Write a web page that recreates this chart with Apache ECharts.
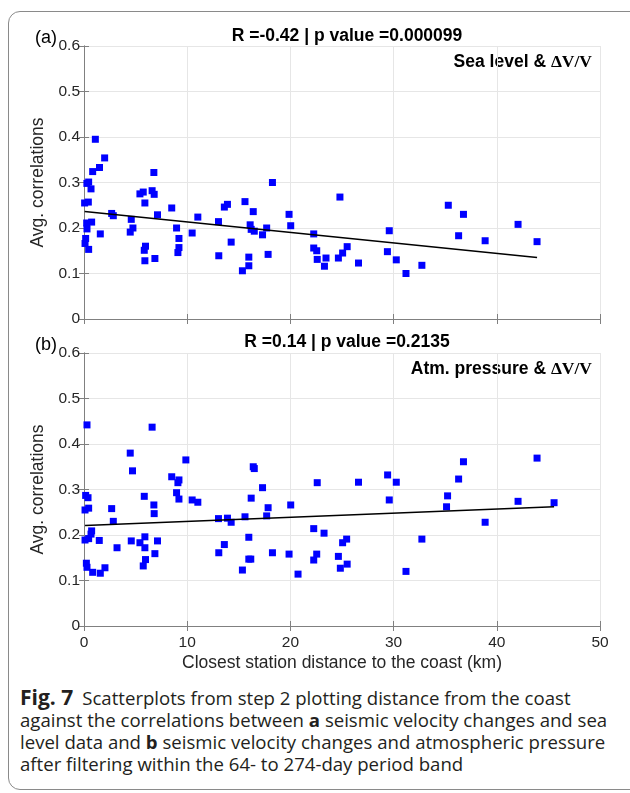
<!DOCTYPE html>
<html>
<head>
<meta charset="utf-8">
<script src="https://cdn.jsdelivr.net/npm/echarts@6/dist/echarts.min.js"></script>
<style>
  html, body { margin: 0; padding: 0; background: #fff; overflow: hidden; width: 630px; height: 793px; }
  #frame {
    position: absolute; left: 8px; top: 11px; width: 700px; height: 779px;
    border: 1px solid #8a8a8a; border-radius: 12px; box-sizing: border-box;
  }
  #chart { position: absolute; left: 0; top: 0; width: 630px; height: 680px; }
  #caption {
    position: absolute; left: 20px; top: 686px; width: 610px;
    font-family: "Open Sans", sans-serif; font-size: 18.6px; line-height: 22px;
    color: #231f20; white-space: nowrap;
  }
  #caption b { font-weight: 700; }
  #caption .fig { font-size: 21px; margin-right: 9px; }
</style>
</head>
<body>
<div id="frame"></div>
<div id="chart"></div>
<div id="caption">
  <b class="fig">Fig. 7</b>Scatterplots from step 2 plotting distance from the coast<br>
  against the correlations between <b>a</b> seismic velocity changes and sea<br>
  level data and <b>b</b> seismic velocity changes and atmospheric pressure<br>
  after filtering within the 64- to 274-day period band
</div>
<script>
// 刻度
const xTicks = [0, 10, 20, 30, 40, 50]
const yTicks = [0, 0.1, 0.2, 0.3, 0.4, 0.5, 0.6]

// (a) 海平面 vs 距离
const seaPoints = [
  [1.1, 0.395], [2.0, 0.354], [1.5, 0.333], [0.84, 0.324], [0.28, 0.298], [0.45, 0.301],
  [0.68, 0.286], [0.06, 0.255], [0.42, 0.257], [2.68, 0.232], [2.84, 0.227], [0.26, 0.211],
  [0.74, 0.213], [0.29, 0.198], [1.58, 0.187], [0.16, 0.177], [0.1, 0.166], [0.45, 0.153],
  [4.58, 0.219], [4.74, 0.2], [4.48, 0.191], [5.42, 0.275], [5.74, 0.279], [5.9, 0.255],
  [6.6, 0.282], [6.8, 0.274], [6.77, 0.322], [7.12, 0.229], [5.96, 0.16], [5.84, 0.151],
  [5.9, 0.128], [6.87, 0.133], [8.5, 0.244], [8.97, 0.2], [9.2, 0.177], [9.2, 0.157],
  [9.1, 0.146], [10.48, 0.189], [11.03, 0.224], [13.03, 0.214], [13.06, 0.139], [13.6, 0.246],
  [13.9, 0.252], [14.26, 0.169], [15.6, 0.258], [16.4, 0.236], [16.1, 0.207], [16.2, 0.197],
  [16.5, 0.193], [15.97, 0.136], [15.97, 0.117], [15.35, 0.106], [17.3, 0.185], [17.7, 0.2],
  [17.84, 0.142], [18.26, 0.3], [19.87, 0.23], [20.03, 0.205], [22.26, 0.187], [22.26, 0.156],
  [22.55, 0.15], [22.6, 0.131], [23.45, 0.134], [23.3, 0.116], [24.65, 0.134], [24.8, 0.268],
  [25.06, 0.145], [25.5, 0.159], [26.6, 0.123], [29.58, 0.194], [29.4, 0.148], [30.26, 0.13],
  [31.2, 0.1], [32.74, 0.118], [35.3, 0.25], [36.77, 0.23], [36.3, 0.183], [38.87, 0.172],
  [42.06, 0.208], [43.9, 0.17]
]
const seaFit = [[0.06, 0.236], [43.9, 0.135]]

// (b) 气压 vs 距离
const atmPoints = [
  [0.29, 0.442], [6.6, 0.437], [4.48, 0.38], [4.7, 0.341], [9.87, 0.365], [8.5, 0.328],
  [9.2, 0.321], [9.1, 0.315], [8.97, 0.293], [9.2, 0.279], [10.48, 0.277], [11.03, 0.272],
  [16.4, 0.35], [16.5, 0.346], [17.3, 0.304], [16.2, 0.281], [17.84, 0.26], [17.7, 0.242],
  [15.6, 0.24], [22.6, 0.315], [20.03, 0.266], [0.16, 0.287], [0.39, 0.282], [0.1, 0.255],
  [0.45, 0.259], [2.68, 0.258], [2.84, 0.23], [5.84, 0.285], [6.77, 0.266], [6.8, 0.247],
  [13.03, 0.236], [13.9, 0.237], [14.26, 0.228], [0.74, 0.209], [0.68, 0.202], [0.45, 0.192],
  [0.1, 0.189], [1.48, 0.188], [3.2, 0.172], [4.58, 0.187], [5.42, 0.183], [5.9, 0.196],
  [5.9, 0.172], [7.12, 0.187], [6.87, 0.159], [5.96, 0.146], [5.74, 0.132], [0.23, 0.138],
  [0.29, 0.129], [0.84, 0.118], [1.58, 0.116], [2.03, 0.128], [13.06, 0.161], [13.6, 0.179],
  [15.97, 0.195], [15.97, 0.147], [16.16, 0.147], [15.35, 0.123], [18.26, 0.161], [19.87, 0.158],
  [20.74, 0.114], [22.26, 0.214], [23.26, 0.204], [22.55, 0.158], [22.26, 0.145], [24.65, 0.153],
  [24.84, 0.127], [25.06, 0.183], [25.45, 0.191], [25.5, 0.136], [26.6, 0.316], [29.42, 0.332],
  [30.26, 0.316], [29.58, 0.277], [31.2, 0.12], [32.74, 0.191], [35.13, 0.262], [35.23, 0.286],
  [36.3, 0.323], [36.77, 0.361], [38.87, 0.228], [42.06, 0.274], [43.9, 0.369], [45.55, 0.271]
]
const atmFit = [[0.1, 0.221], [45.55, 0.262]]

const titles = ['R =-0.42 | p value =0.000099', 'R =0.14 | p value =0.2135']
const panelTags = ['(a)', '(b)']
const panelNames = ['Sea level & ', 'Atm. pressure & ']

const FONT = '"Liberation Sans", Arial, sans-serif'
const grids = [
  { left: 84, top: 46, width: 516, height: 273 },
  { left: 84, top: 353, width: 516, height: 273 }
]

const chart = echarts.init(document.getElementById('chart'))

function xAxisFor (i, pos, labels) {
  return {
    type: 'value', gridIndex: i, position: pos, min: 0, max: 50, interval: 10,
    axisLine: { show: true, lineStyle: { color: '#808080', width: 1 } },
    axisTick: { show: true, inside: true, length: 5, lineStyle: { color: '#808080' } },
    axisLabel: { show: labels, color: '#262626', fontSize: 15.5, fontFamily: FONT, margin: 9,
      formatter: v => xTicks.includes(v) ? String(v) : '' },
    splitLine: { show: pos === 'bottom', lineStyle: { color: '#e6e6e6' } },
    name: labels ? 'Closest station distance to the coast (km)' : '',
    nameLocation: 'middle', nameGap: 28,
    nameTextStyle: { color: '#262626', fontSize: 17.5, fontFamily: FONT }
  }
}

function yAxisFor (i, pos) {
  const main = pos === 'left'
  return {
    type: 'value', gridIndex: i, position: pos, min: 0, max: 0.6, interval: 0.1,
    axisLine: { show: true, lineStyle: { color: '#808080', width: 1 } },
    axisTick: { show: true, inside: true, length: 5, lineStyle: { color: '#808080' } },
    axisLabel: { show: main, color: '#262626', fontSize: 15.5, fontFamily: FONT, margin: 4,
      formatter: v => {
        const t = yTicks.find(k => Math.abs(k - v) < 1e-6)
        return t === undefined ? '' : (t === 0 ? '0' : t.toFixed(1))
      } },
    splitLine: { show: main, lineStyle: { color: '#e6e6e6' } },
    name: main ? 'Avg. correlations' : '',
    nameLocation: 'middle', nameGap: 31,
    nameTextStyle: { color: '#262626', fontSize: 17.5, fontFamily: FONT }
  }
}

const scatterStyle = { color: '#0000ff', opacity: 1 }

const option = {
  animation: false,
  grid: grids,
  title: titles.map((t, i) => ({
    text: t, left: 342, textAlign: 'center', top: i === 0 ? 22 : 328,
    textStyle: { fontSize: 17.5, fontWeight: 'bold', color: '#000', fontFamily: FONT }
  })),
  xAxis: [
    xAxisFor(0, 'bottom', false), xAxisFor(0, 'top', false),
    xAxisFor(1, 'bottom', true), xAxisFor(1, 'top', false)
  ],
  yAxis: [
    yAxisFor(0, 'left'), yAxisFor(0, 'right'),
    yAxisFor(1, 'left'), yAxisFor(1, 'right')
  ],
  graphic: [0, 1].flatMap(i => [
    {
      type: 'text', left: 35, top: grids[i].top - 17,
      style: { text: panelTags[i], fontSize: 18, fontFamily: FONT, fill: '#000' }
    },
    {
      type: 'text', right: 38, top: grids[i].top + 7,
      style: {
        text: '{s|' + panelNames[i] + '}{d|ΔV/V}',
        rich: {
          s: { fontSize: 17.5, fontWeight: 'bold', fontFamily: FONT, fill: '#000' },
          d: { fontSize: 17.5, fontWeight: 'bold', fontFamily: '"Liberation Serif", serif', fill: '#000' }
        }
      }
    }
  ]),
  series: [
    { type: 'scatter', xAxisIndex: 0, yAxisIndex: 0, data: seaPoints,
      symbol: 'rect', symbolSize: 7, itemStyle: scatterStyle },
    { type: 'line', xAxisIndex: 0, yAxisIndex: 0, data: seaFit, showSymbol: false,
      lineStyle: { color: '#000', width: 1.5 } },
    { type: 'scatter', xAxisIndex: 2, yAxisIndex: 2, data: atmPoints,
      symbol: 'rect', symbolSize: 7, itemStyle: scatterStyle },
    { type: 'line', xAxisIndex: 2, yAxisIndex: 2, data: atmFit, showSymbol: false,
      lineStyle: { color: '#000', width: 1.5 } }
  ]
}

chart.setOption(option)
</script>
</body>
</html>
